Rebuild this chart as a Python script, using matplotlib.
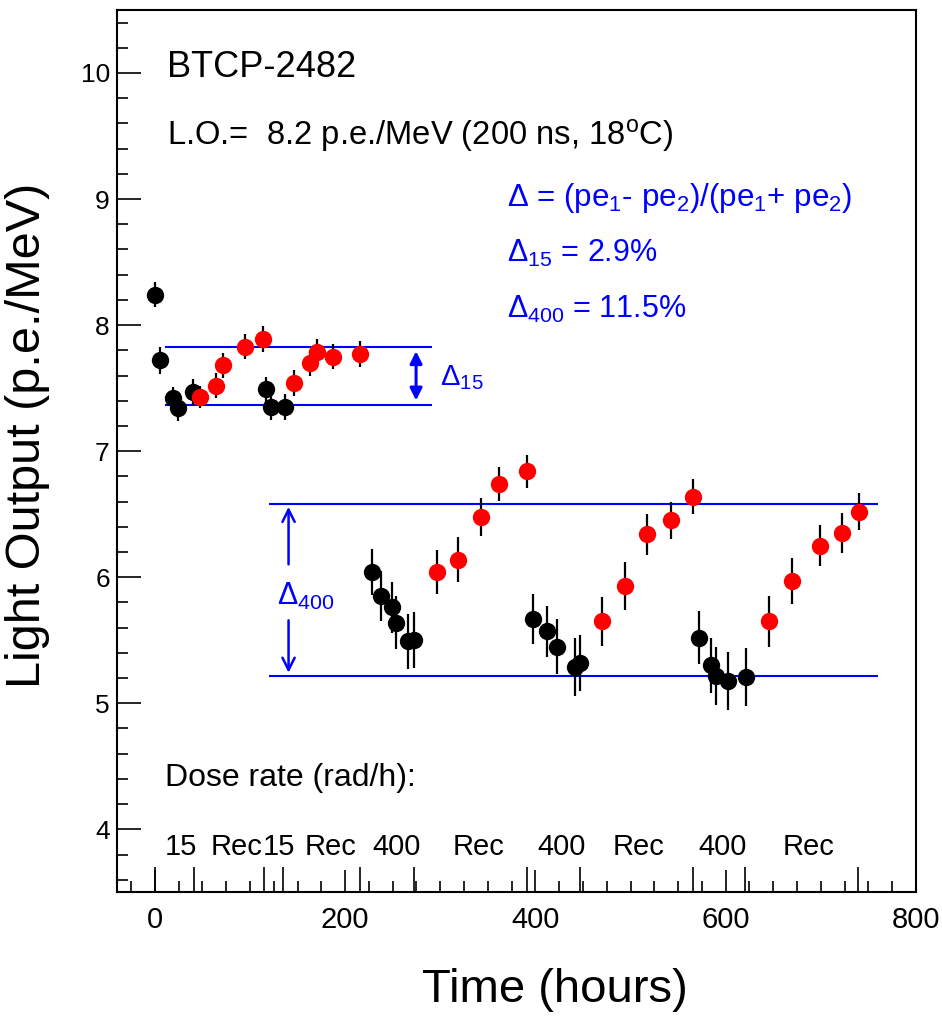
import numpy as np
import matplotlib
matplotlib.use('Agg')
import matplotlib.pyplot as plt
from matplotlib.ticker import MultipleLocator

plt.rcParams['font.family'] = ['Liberation Sans', 'DejaVu Sans']
plt.rcParams['mathtext.fontset'] = 'custom'
plt.rcParams['mathtext.rm'] = 'Liberation Sans'
plt.rcParams['mathtext.it'] = 'Liberation Sans:italic'
plt.rcParams['mathtext.default'] = 'rm'

# irradiation points (black)
irr_t = [0.7, 5, 19, 24, 40, 117, 122, 137,
         228, 237.5, 249.5, 253, 266.5, 272.8,
         397.7, 411.7, 422.2, 441.4, 446.7,
         571.9, 584.9, 589.4, 602.3, 620.9]
irr_lo = [8.24, 7.72, 7.42, 7.34, 7.47, 7.49, 7.35, 7.35,
          6.04, 5.85, 5.76, 5.64, 5.49, 5.50,
          5.67, 5.57, 5.45, 5.29, 5.32,
          5.52, 5.30, 5.22, 5.18, 5.21]
irr_err = [0.10, 0.11, 0.09, 0.10, 0.10, 0.10, 0.10, 0.10,
           0.18, 0.20, 0.20, 0.21, 0.22, 0.22,
           0.20, 0.20, 0.22, 0.23, 0.22,
           0.21, 0.22, 0.23, 0.23, 0.23]

# recovery points (red)
rec_t = [48, 64.7, 71.8, 95.2, 113.7, 145.9, 163.4, 170.4, 186.8, 215.8,
         296.3, 319, 342.5, 362, 390.8,
         470.5, 494.6, 517.7, 542.2, 565.6,
         645.3, 669.5, 699.3, 722.4, 739.8]
rec_lo = [7.43, 7.52, 7.68, 7.83, 7.89, 7.54, 7.70, 7.79, 7.75, 7.77,
          6.04, 6.14, 6.48, 6.74, 6.84,
          5.65, 5.93, 6.34, 6.45, 6.64,
          5.65, 5.97, 6.25, 6.35, 6.52]
rec_err = [0.09, 0.10, 0.10, 0.10, 0.10, 0.10, 0.10, 0.10, 0.10, 0.10,
           0.175, 0.18, 0.15, 0.135, 0.13,
           0.195, 0.19, 0.16, 0.15, 0.14,
           0.20, 0.18, 0.165, 0.16, 0.145]

# dose rate periods
bounds = [0, 41, 115, 135, 216, 272, 391, 447, 566, 620, 739]
period_labels = ['15', 'Rec', '15', 'Rec', '400', 'Rec', '400', 'Rec', '400', 'Rec']
period_x = [11, 59, 113, 158, 229, 313, 402, 481, 571, 660]

# delta levels
d15_levels = [7.825, 7.37]
d15_span = [11, 291]
d400_levels = [6.58, 5.22]
d400_span = [120, 760]

fig = plt.figure(figsize=(9.42, 10.17), dpi=100)
ax = fig.add_axes([0.1239, 0.1226, 0.8485, 0.8676])

ax.errorbar(irr_t, irr_lo, yerr=irr_err, fmt='none', ecolor='black', elinewidth=1.6, capsize=0, zorder=2)
ax.errorbar(rec_t, rec_lo, yerr=rec_err, fmt='none', ecolor='black', elinewidth=1.6, capsize=0, zorder=2)
ax.plot(irr_t, irr_lo, 'o', color='black', ms=12.5, mew=0, zorder=3)
ax.plot(rec_t, rec_lo, 'o', color='red', ms=12.5, mew=0, zorder=4)

blue = '#0000ff'
ax.hlines(d15_levels, d15_span[0], d15_span[1], colors=blue, lw=1.5, zorder=1)
ax.hlines(d400_levels, d400_span[0], d400_span[1], colors=blue, lw=1.5, zorder=1)

# delta 15 arrow
ax.annotate('', xy=(274.6, d15_levels[0] - 0.01), xytext=(274.6, d15_levels[1] + 0.01),
            arrowprops=dict(arrowstyle='<|-|>', color=blue, lw=2.2, mutation_scale=18))
ax.text(300, 7.58, r'$\Delta_{15}$', color=blue, fontsize=21, va='center', ha='left')

# delta 400 arrows
ax.annotate('', xy=(140.6, d400_levels[0]), xytext=(140.6, 6.08),
            arrowprops=dict(arrowstyle='->', color=blue, lw=1.8, mutation_scale=22))
ax.annotate('', xy=(140.6, d400_levels[1]), xytext=(140.6, 5.68),
            arrowprops=dict(arrowstyle='->', color=blue, lw=1.8, mutation_scale=22))
ax.text(128, 5.85, r'$\Delta_{400}$', color=blue, fontsize=22, va='center', ha='left')

ax.text(12.4, 9.97, 'BTCP-2482', fontsize=26, va='baseline', ha='left')
ax.text(12.4, 9.433, r'L.O.=  8.2 p.e./MeV (200 ns, 18$^{\mathrm{o}}$C)', fontsize=23.6, va='baseline', ha='left')

ax.text(369.8, 8.947, r'$\Delta$ = (pe$_1$- pe$_2$)/(pe$_1$+ pe$_2$)', color=blue, fontsize=22.5, va='baseline')
ax.text(369.8, 8.498, r'$\Delta_{15}$ = 2.9%', color=blue, fontsize=22, va='baseline')
ax.text(369.8, 8.058, r'$\Delta_{400}$ = 11.5%', color=blue, fontsize=22, va='baseline')

ax.text(11, 4.34, 'Dose rate (rad/h):', fontsize=23, va='baseline')
for x, lab in zip(period_x, period_labels):
    ax.text(x, 3.80, lab, fontsize=21, va='baseline', ha='left')

# tall ticks at dose rate changes
ax.vlines(bounds, 0, 0.0283, transform=ax.get_xaxis_transform(), colors='black', lw=1.2)

ax.set_xlim(-40, 800)
ax.set_ylim(3.5, 10.5)
ax.xaxis.set_major_locator(MultipleLocator(200))
ax.xaxis.set_minor_locator(MultipleLocator(25))
ax.yaxis.set_major_locator(MultipleLocator(1))
ax.yaxis.set_minor_locator(MultipleLocator(0.2))
ax.tick_params(which='both', direction='in', top=False, right=False, width=1.2)
ax.tick_params(axis='x', which='major', length=16, pad=10, labelsize=21)
ax.tick_params(axis='x', which='minor', length=8)
ax.tick_params(axis='y', which='major', length=17, pad=5, labelsize=19)
ax.tick_params(axis='y', which='minor', length=8)
for s in ax.spines.values():
    s.set_linewidth(1.5)

ax.set_xlabel('Time (hours)', fontsize=34, va='center')
ax.set_ylabel('Light Output (p.e./MeV)', fontsize=35, va='center')
ax.xaxis.set_label_coords(0.548, -0.111)
ax.yaxis.set_label_coords(-0.111, 0.518)

fig.savefig('out.png', dpi=100)
